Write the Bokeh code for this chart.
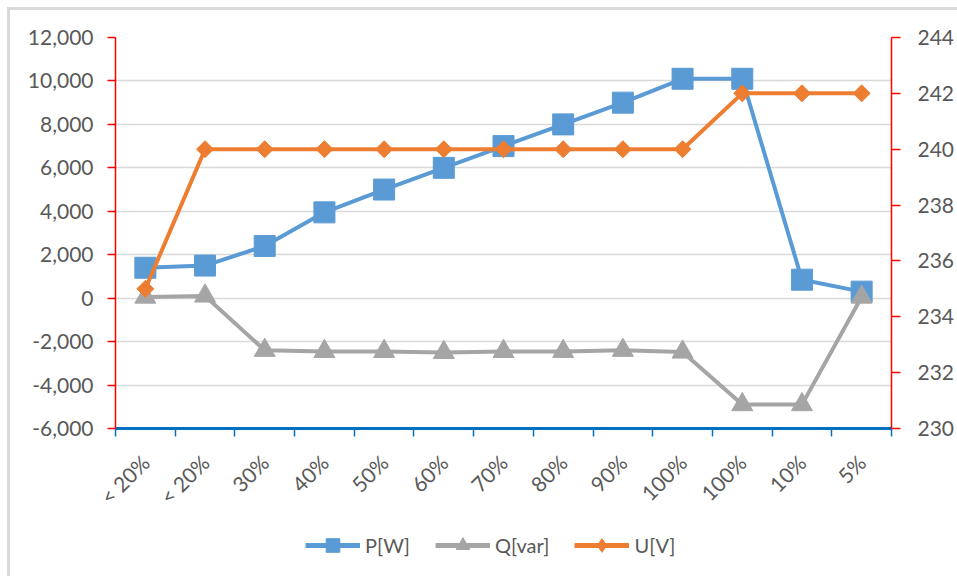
import math
from bokeh.plotting import figure
from bokeh.layouts import column
from bokeh.models import (Range1d, LinearAxis, FixedTicker, NumeralTickFormatter,
                          Legend, LegendItem)
from bokeh.embed import file_html
from bokeh.resources import INLINE

categories = ["< 20%", "< 20%", "30%", "40%", "50%", "60%", "70%", "80%",
              "90%", "100%", "100%", "10%", "5%"]
p_w = [1400, 1500, 2400, 3950, 5000, 6000, 7000, 8000, 9000, 10100, 10100, 850, 300]
q_var = [50, 100, -2400, -2450, -2450, -2500, -2450, -2450, -2400, -2480, -4900, -4900, 50]
u_v = [235, 240, 240, 240, 240, 240, 240, 240, 240, 240, 242, 242, 242]
left_ticks = list(range(-6000, 12001, 2000))
right_ticks = list(range(230, 245, 2))
series_names = ["P[W]", "Q[var]", "U[V]"]

BLUE = "#5B9BD5"
GRAY = "#A5A5A5"
ORANGE = "#ED7D31"
TXT = "#595959"
FONT = "Lato"

n = len(categories)
xs = [i + 0.5 for i in range(n)]

p = figure(width=947, height=510, x_range=Range1d(0, n), y_range=Range1d(-6000, 12000),
           output_backend="svg", toolbar_location=None,
           min_border_left=105, min_border_top=27, min_border_right=66, min_border_bottom=92)
p.outline_line_color = None
p.background_fill_color = "white"
p.border_fill_color = "white"
p.extra_y_ranges = {"u": Range1d(230, 244)}

# left axis
ya = p.yaxis[0]
ya.ticker = FixedTicker(ticks=left_ticks)
ya.formatter = NumeralTickFormatter(format="0,0")
ya.axis_line_color = "#FF0000"
ya.axis_line_width = 1.5
ya.major_tick_line_color = "#FF0000"
ya.major_tick_line_width = 1.5
ya.major_tick_out = 8
ya.major_tick_in = 0
ya.minor_tick_line_color = None
ya.major_label_standoff = 14
ya.major_label_text_font = FONT
ya.major_label_text_font_size = "21px"
ya.major_label_text_color = TXT

# right axis
ra = LinearAxis(y_range_name="u", ticker=FixedTicker(ticks=right_ticks))
ra.axis_line_color = "#FF0000"
ra.axis_line_width = 1.5
ra.major_tick_line_color = "#FF0000"
ra.major_tick_line_width = 1.5
ra.major_tick_out = 9
ra.major_tick_in = 0
ra.minor_tick_line_color = None
ra.major_label_standoff = 17
ra.major_label_text_font = FONT
ra.major_label_text_font_size = "21px"
ra.major_label_text_color = TXT
p.add_layout(ra, "right")

# bottom axis: labels at category centres, ticks at category boundaries
xa = p.xaxis[0]
xa.ticker = FixedTicker(ticks=xs, minor_ticks=list(range(n + 1)))
xa.major_label_overrides = {x: c for x, c in zip(xs, categories)}
xa.major_tick_line_color = None
xa.major_tick_out = 0
xa.major_tick_in = 0
xa.minor_tick_line_color = "#0070C0"
xa.minor_tick_line_width = 1.5
xa.minor_tick_out = 8
xa.minor_tick_in = 0
xa.axis_line_color = "#0070C0"
xa.axis_line_width = 3
xa.major_label_orientation = math.pi / 4
xa.major_label_standoff = 22
xa.major_label_text_font = FONT
xa.major_label_text_font_size = "21px"
xa.major_label_text_color = TXT

p.xgrid.visible = False
p.ygrid.ticker = FixedTicker(ticks=left_ticks)
p.ygrid.grid_line_color = "#D9D9D9"
p.ygrid.grid_line_width = 1.3

styles_spec = [(series_names[0], p_w, BLUE, "square", "square", 0, 21, "default"),
               (series_names[1], q_var, GRAY, "triangle", "triangle", 0, 21, "default"),
               (series_names[2], u_v, ORANGE, "square", "diamond", math.pi / 4, 12, "u")]

for name, ys, col, mk, lmk, ang, sz, rng in styles_spec:
    p.line(xs, ys, line_color=col, line_width=4, y_range_name=rng)
    p.scatter(xs, ys, marker=mk, angle=ang, size=sz, fill_color=col, line_color=col,
              y_range_name=rng)

# legend strip below the chart (its frame is aligned with the chart's frame)
lg = figure(width=947, height=56, x_range=Range1d(-3, -2), y_range=Range1d(-6000, 12000),
            output_backend="svg", toolbar_location=None,
            x_axis_type=None, y_axis_type=None,
            min_border_left=0, min_border_right=0, min_border_top=0, min_border_bottom=0)
lg.outline_line_color = None
lg.grid.visible = False
lg.background_fill_color = "white"
lg.border_fill_color = "white"
lg.extra_y_ranges = {"u": Range1d(230, 244)}

items = []
for name, ys, col, mk, lmk, ang, sz, rng in styles_spec:
    r1 = lg.line(xs, ys, line_color=col, line_width=5, y_range_name=rng)
    r2 = lg.scatter(xs, ys, marker=lmk, size=sz, fill_color=col, line_color=col,
                    y_range_name=rng)
    items.append(LegendItem(label=name, renderers=[r1, r2]))

legend = Legend(items=items, orientation="horizontal", location=(190, 14))
legend.glyph_width = 55
legend.glyph_height = 34
legend.label_standoff = 5
legend.spacing = 25
legend.padding = 0
legend.margin = 0
legend.border_line_color = None
legend.background_fill_alpha = 0
legend.label_text_font = FONT
legend.label_text_font_size = "20px"
legend.label_text_color = TXT
lg.add_layout(legend)

layout = column(p, lg, spacing=0,
                styles={"margin-left": "7px", "margin-top": "7px",
                        "border-left": "3px solid #D9D9D9", "border-top": "3px solid #D9D9D9"})

open("out.html", "w").write(file_html(layout, INLINE))
